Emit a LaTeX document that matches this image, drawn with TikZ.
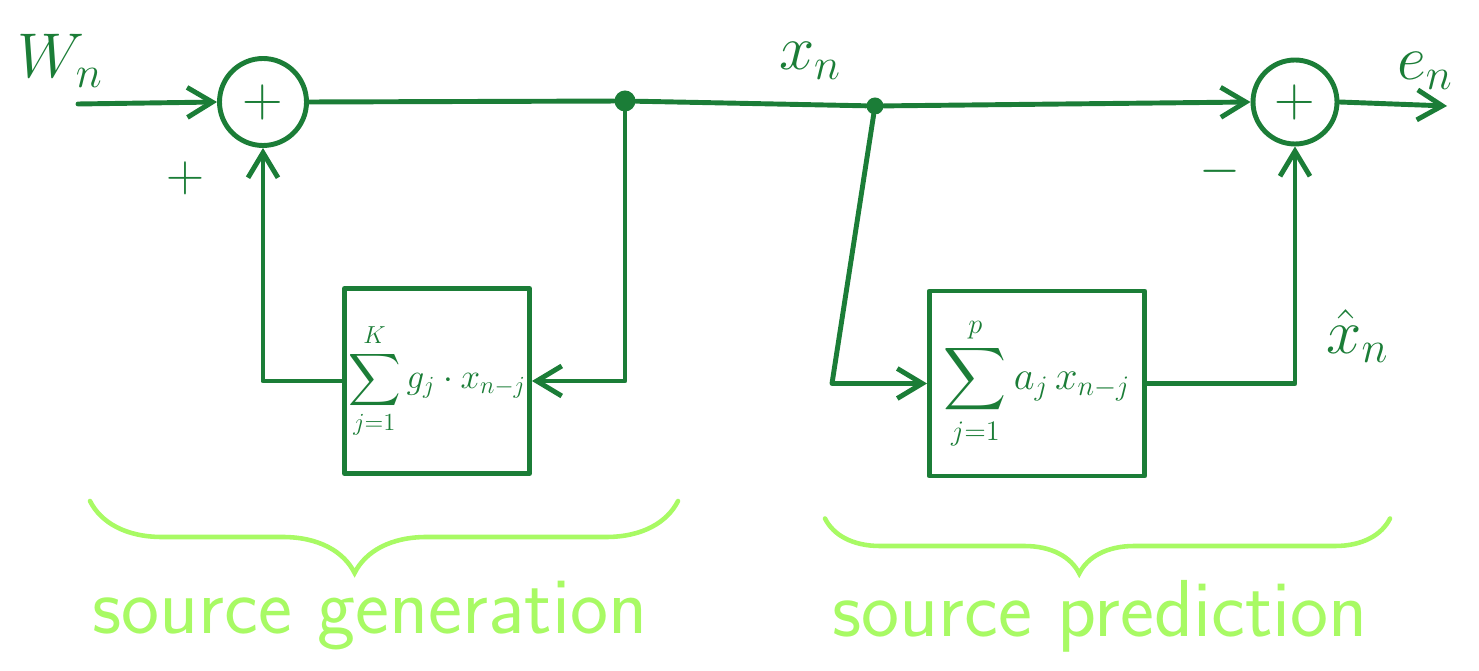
\documentclass[tikz,border=0pt]{standalone}
\usepackage{fix-cm}
\usepackage{amsmath}
\definecolor{penGreen}{RGB}{27, 125, 55}
\definecolor{markerGreen}{RGB}{168, 250, 100}
\usetikzlibrary{arrows.meta, positioning, calc, decorations.pathreplacing}
\tikzset{
    ink/.style={draw=penGreen, line width=2.8pt, line cap=round, line join=round},
    sumnode/.style={circle, ink, minimum size=1.74cm, inner sep=0pt, text=penGreen, font=\fontsize{32}{36}\selectfont},
    filterbox/.style={rectangle, ink, minimum width=3.7cm, minimum height=3.7cm, inner sep=2pt, text=penGreen, font=\fontsize{20}{24}\selectfont},
    junction/.style={circle, fill=penGreen, inner sep=0pt, minimum size=0.42cm},
    wire/.style={ink},
    signal/.style={ink, -{Straight Barb[length=5mm, width=6mm]}},
    siglabel/.style={text=penGreen, font=\fontsize{36}{42}\selectfont},
    signlabel/.style={text=penGreen, font=\fontsize{30}{34}\selectfont},
    bracemark/.style={draw=markerGreen, line width=2.6pt, line cap=round, decorate, decoration={brace, mirror, aspect=0.45}},
    caption/.style={text=markerGreen, font=\sffamily\fontsize{46}{52}\selectfont},
}

\begin{document}
\begin{tikzpicture}
    \useasboundingbox (0,0) rectangle (29.58,13.42);

    % Adders
    \node[sumnode] (add1) at (5.26, 11.38) {$+$};
    \node[sumnode, minimum size=1.68cm] (add2) at (25.9, 11.38) {$+$};

    % Pick-off points
    \node[junction] (tap1) at (12.5, 11.4) {};
    \node[junction, minimum size=0.34cm] (tap2) at (17.5, 11.3) {};

    % Filters
    \node[filterbox] (gen) at (8.74, 5.8) {$\displaystyle\sum_{j=1}^{K} g_j\cdot x_{n-j}$};
    \node[filterbox, minimum width=4.3cm, font=\fontsize{23}{27}\selectfont] (pred) at (20.74, 5.75) {$\displaystyle\sum_{j=1}^{p} a_j\, x_{n-j}$};

    % Free ends and bends
    \coordinate (win) at (1.56, 11.34);
    \coordinate (eout) at (28.94, 11.3);
    \coordinate (pbend) at (16.64, 5.75);

    % Signal names
    \node[siglabel] (wlab) at (1.2, 12.2) {$W_n$};
    \node[siglabel] (xlab) at (16.2, 12.2) {$x_n$};
    \node[siglabel] (elab) at (28.5, 12.0) {$e_n$};
    \node[siglabel] (xhatlab) at (27.15, 6.7) {$\hat{x}_n$};
    \node[signlabel] (plus) at (3.7, 9.86) {$+$};
    \node[signlabel] (minus) at (24.4, 10.0) {$-$};

    % Forward path
    \draw[signal] (win) -- (add1.west);
    \draw[wire] (add1.east) -- (tap1) -- (tap2);
    \draw[signal] (tap2) -- (add2.west);
    \draw[signal] (add2.east) -- (eout);

    % Generation loop
    \draw[signal] (tap1) |- (gen.east);
    \draw[signal] (gen.west) -| (add1.south);

    % Prediction branch
    \draw[signal] (tap2) -- (pbend) -- (pred.west);
    \draw[signal] (pred.east) -| (add2.south);

    % Braces and captions
    \coordinate (g0) at (1.8, 3.4);
    \coordinate (g1) at (13.56, 3.4);
    \coordinate (p0) at (16.5, 3.05);
    \coordinate (p1) at (27.8, 3.05);
    \draw[bracemark, decoration={amplitude=1.44cm}] (g0) -- (g1);
    \draw[bracemark, decoration={amplitude=1.1cm}] (p0) -- (p1);
    \node[caption] (genlab) at (7.4, 1.1) {source generation};
    \node[caption] (predlab) at (22.0, 1.1) {source prediction};
\end{tikzpicture}
\end{document}
